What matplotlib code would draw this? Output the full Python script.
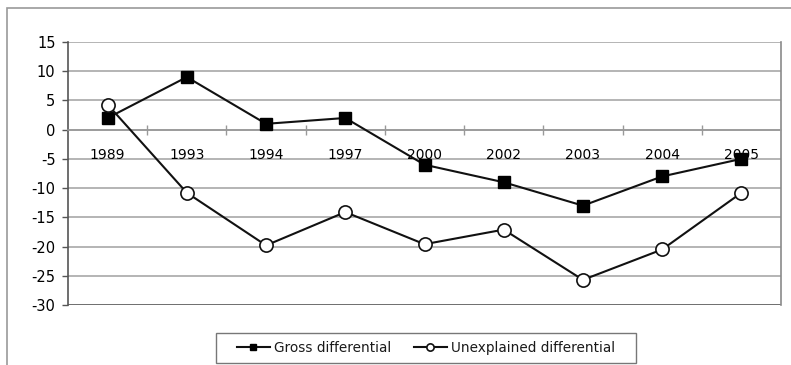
import numpy as np
import matplotlib.pyplot as plt
from matplotlib.patches import Rectangle

years = ['1989', '1993', '1994', '1997', '2000', '2002', '2003', '2004', '2005']
gross = [2, 9, 1, 2, -6, -9, -13, -8, -5]
unexplained = [4.3, -10.8, -19.8, -14.1, -19.6, -17.1, -25.7, -20.5, -10.8]
y_ticks = [15, 10, 5, 0, -5, -10, -15, -20, -25, -30]


def main():
	plt.rcParams['font.family'] = ['DejaVu Sans']
	plt.rcParams['font.size'] = 10
	plt.rcParams['text.color'] = '#1a1a1a'
	plt.rcParams['axes.unicode_minus'] = False

	W, H = 791, 365
	fig = plt.figure(figsize=(W / 100, H / 100), dpi=100)

	# border of the chart area (runs off the right and bottom edges)
	fig.patches.append(Rectangle((7 / W, -0.2), 2, 1.2 - 8 / H, transform=fig.transFigure,
								 fill=False, edgecolor='#9a9a9a', lw=1.2))
	# legend box
	fig.patches.append(Rectangle((216 / W, 1 - 363 / H), 420 / W, 30 / H, transform=fig.transFigure,
								 fill=False, edgecolor='#777777', lw=1))

	left, right, top, bottom = 68, 781, 42, 305
	ax = fig.add_axes([left / W, 1 - bottom / H, (right - left) / W, (bottom - top) / H])

	x = np.arange(len(years))
	ax.set_xlim(-0.5, len(years) - 0.5)
	ax.set_ylim(-30, 15)

	# horizontal gridlines
	for v in y_ticks:
		ax.axhline(v, color='#a8a8a8', lw=1.2, zorder=1)
	ax.axhline(-30, color='#707070', lw=1.4, zorder=1)

	ax.plot(x, gross, color='#111111', lw=1.5, marker='s', markersize=9,
			markerfacecolor='black', markeredgecolor='black', label='Gross differential', zorder=3)
	ax.plot(x, unexplained, color='#111111', lw=1.5, marker='o', markersize=9.5,
			markerfacecolor='white', markeredgecolor='#111111', markeredgewidth=1.2,
			label='Unexplained differential', zorder=3)

	# y axis
	ax.set_yticks(y_ticks)
	ax.tick_params(axis='y', length=4, width=1, color='#555555', pad=5, labelsize=10.5)
	ax.spines['left'].set_color('#555555')
	ax.spines['left'].set_linewidth(1.2)
	ax.spines['right'].set_color('#8a8a8a')
	ax.spines['right'].set_linewidth(1.2)
	ax.spines['top'].set_visible(False)

	# x axis crosses at zero, labels sit below it
	ax.spines['bottom'].set_position(('data', 0))
	ax.spines['bottom'].set_color('#999999')
	ax.spines['bottom'].set_linewidth(1.2)
	ax.set_xticks(x)
	ax.set_xticklabels(years)
	ax.set_xticks(x[:-1] + 0.5, minor=True)
	ax.tick_params(axis='x', which='major', length=0, pad=13, labelsize=10)
	ax.tick_params(axis='x', which='minor', direction='inout', length=7, width=1, color='#999999')

	ax.legend(loc='center', bbox_to_anchor=(426 / W, 1 - 348 / H),
			  bbox_transform=fig.transFigure, ncol=2, frameon=False,
			  markerscale=0.55, handlelength=2.4, columnspacing=1.7, handletextpad=0.3,
			  borderpad=0.2, fontsize=9.8)

	plt.savefig('out.png', dpi=100)


if __name__ == '__main__':
	main()
